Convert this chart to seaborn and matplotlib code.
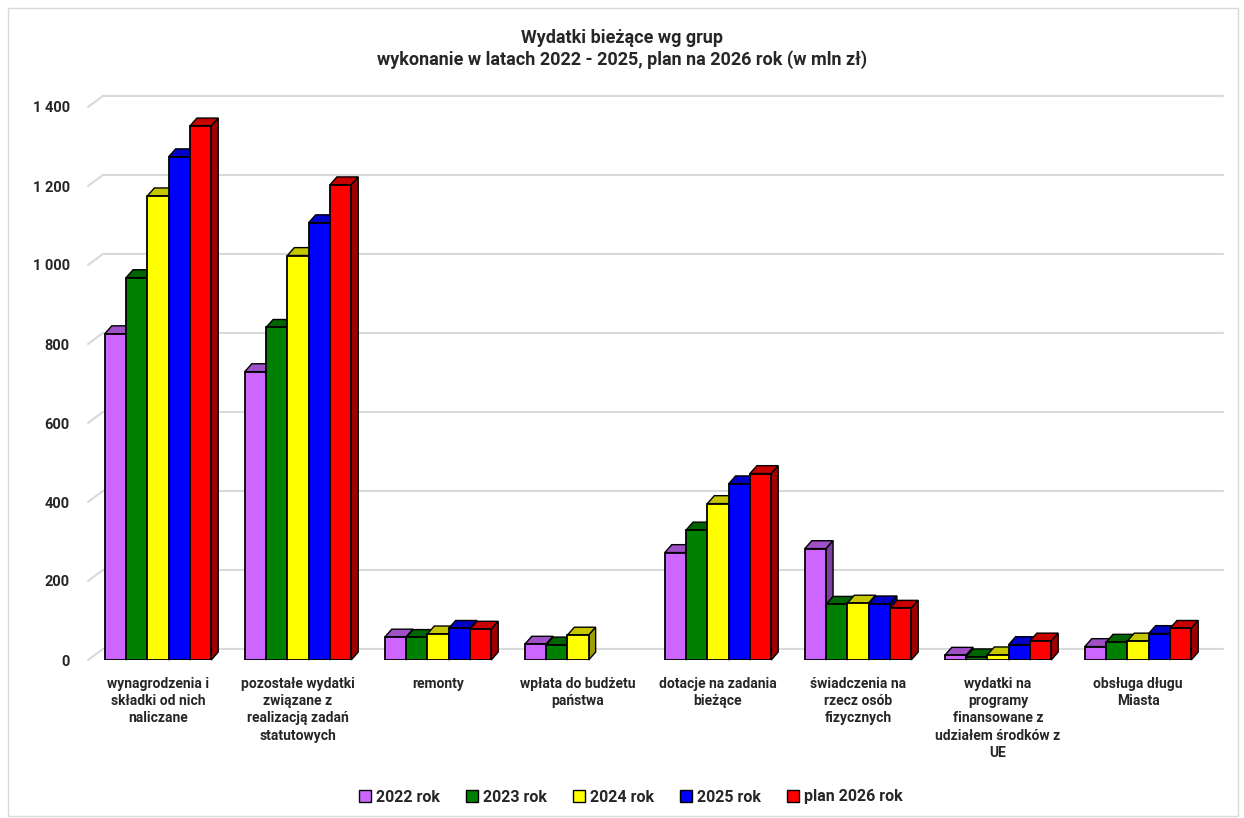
import numpy as np
import pandas as pd
import seaborn as sns
import matplotlib.pyplot as plt
from matplotlib.patches import Polygon, Rectangle, Patch
from matplotlib.lines import Line2D
from matplotlib.colors import to_rgb

# dane
kategorie = [
    "wynagrodzenia i\nskładki od nich\nnaliczane",
    "pozostałe wydatki\nzwiązane z\nrealizacją zadań\nstatutowych",
    "remonty",
    "wpłata do budżetu\npaństwa",
    "dotacje na zadania\nbieżące",
    "świadczenia na\nrzecz osób\nfizycznych",
    "wydatki na\nprogramy\nfinansowane z\nudziałem środków z\nUE",
    "obsługa długu\nMiasta",
]
lata = ["2022 rok", "2023 rok", "2024 rok", "2025 rok", "plan 2026 rok"]
w2022 = [826, 730, 58, 40, 272, 282, 12, 34]
w2023 = [968, 842, 57, 38, 329, 141, 8, 45]
w2024 = [1175, 1024, 66, 63, 396, 144, 13, 48]
w2025 = [1274, 1107, 80, 0, 446, 142, 39, 67]
w2026 = [1352, 1203, 78, 0, 472, 131, 48, 80]
kolory = ["#CC66FF", "#008000", "#FFFF00", "#0000FF", "#FF0000"]
yticks = [0, 200, 400, 600, 800, 1000, 1200, 1400]

rows = []
for rok, vals in zip(lata, [w2022, w2023, w2024, w2025, w2026]):
    for kat, v in zip(kategorie, vals):
        rows.append({"kategoria": kat, "rok": rok, "wartosc": v})
df = pd.DataFrame(rows)

sns.set_style("white")
plt.rcParams["font.family"] = ["Roboto", "DejaVu Sans"]
plt.rcParams["font.weight"] = "bold"

fig = plt.figure(figsize=(12.44, 8.18), dpi=100)
ax = fig.add_axes([88 / 1244, 1 - 660 / 818, 1120 / 1244, 553 / 818])

sns.barplot(data=df, x="kategoria", y="wartosc", hue="rok", hue_order=lata,
            palette=kolory, saturation=1, width=0.76, gap=0, edgecolor="black",
            linewidth=1.3, ax=ax, legend=False)

ax.set_xlim(-0.5, 7.5)
ax.set_ylim(0, 1400)

# efekt 3D slupkow
dx, dy = 0.05, 20
for k, cont in enumerate(ax.containers):
    base = np.array(to_rgb(kolory[k]))
    top_c = base * 0.78
    side_c = base * 0.62
    for p in cont.patches:
        h = p.get_height()
        if h <= 0:
            p.set_visible(False)
            continue
        x0 = p.get_x()
        x1 = x0 + p.get_width()
        z = 3 + k * 0.1
        p.set_zorder(z + 0.05)
        top = Polygon([(x0, h), (x1, h), (x1 + dx, h + dy), (x0 + dx, h + dy)],
                      closed=True, facecolor=top_c, edgecolor="black",
                      linewidth=1.0, zorder=z, clip_on=False)
        side = Polygon([(x1, 0), (x1 + dx, dy), (x1 + dx, h + dy), (x1, h)],
                       closed=True, facecolor=side_c, edgecolor="black",
                       linewidth=1.0, zorder=z, clip_on=False)
        ax.add_patch(top)
        ax.add_patch(side)

# siatka na tylnej scianie
gdx, gdy = 0.107, 28
for v in yticks:
    ax.add_line(Line2D([-0.5, -0.5 + gdx, 7.5 + gdx], [v, v + gdy, v + gdy],
                       color="#d9d9d9", linewidth=1.5, zorder=1, clip_on=False))

for s in ax.spines.values():
    s.set_visible(False)
ax.set_yticks(yticks)
ax.set_yticklabels([f"{v:,}".replace(",", " ") for v in yticks],
                   fontsize=10.5, fontweight="bold")
ax.tick_params(axis="y", length=0, pad=13)
ax.tick_params(axis="x", length=0, pad=12)
ax.set_xticks(range(len(kategorie)))
ax.set_xticklabels(kategorie, fontsize=10, fontweight="bold", linespacing=1.3,
                   va="top")
ax.set_xlabel("")
ax.set_ylabel("")

fig.text(0.5, 1 - 38 / 818, "Wydatki bieżące wg grup", ha="center", va="center",
         fontsize=13, fontweight="bold")
fig.text(0.5, 1 - 60 / 818, "wykonanie w latach 2022 - 2025, plan na 2026 rok (w mln zł)",
         ha="center", va="center", fontsize=13, fontweight="bold")

handles = [Patch(facecolor=c, edgecolor="black", linewidth=1.0) for c in kolory]
fig.legend(handles, lata, loc="center", bbox_to_anchor=(0.507, 1 - 797 / 818),
           ncol=5, frameon=False, prop={"weight": "bold", "size": 11.5},
           handlelength=0.8, handleheight=0.8, handletextpad=0.3, columnspacing=1.6)

fig.add_artist(Rectangle((8 / 1244, 2 / 818), 1230 / 1244, 808 / 818,
                         transform=fig.transFigure, fill=False,
                         edgecolor="#d9d9d9", linewidth=1.0))

fig.savefig("out.png", dpi=100)
